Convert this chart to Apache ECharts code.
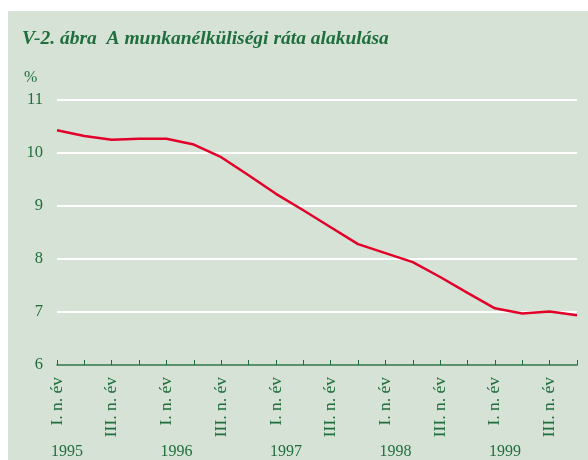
<!DOCTYPE html>
<html>
<head>
<meta charset="utf-8">
<script src="https://cdn.jsdelivr.net/npm/echarts@6/dist/echarts.min.js"></script>
<style>
  html, body { margin: 0; padding: 0; background: #ffffff; }
  #wrap { position: relative; width: 588px; height: 460px; }
  #chart { position: absolute; left: 8px; top: 11px; width: 580px; height: 449px; background: #d7e2d6; }
</style>
</head>
<body>
<div id="wrap"><div id="chart"></div></div>
<script>
// quarterly, 1995 Q1 .. 1999 Q4
const quarters = [
  '1995 I', '1995 II', '1995 III', '1995 IV',
  '1996 I', '1996 II', '1996 III', '1996 IV',
  '1997 I', '1997 II', '1997 III', '1997 IV',
  '1998 I', '1998 II', '1998 III', '1998 IV',
  '1999 I', '1999 II', '1999 III', '1999 IV'
];
const quarterLabels = ['I. n. év', '', 'III. n. év', ''];
const rate = [
  10.43, 10.32, 10.25, 10.27, 10.27, 10.16, 9.92, 9.58, 9.23, 8.92,
  8.60, 8.28, 8.11, 7.94, 7.66, 7.36, 7.07, 6.97, 7.01, 6.94
];
const yMin = 6, yMax = 11, yStep = 1;

const green = '#1f6e3d';
const serif = '"Liberation Serif", "DejaVu Serif", serif';

const chart = echarts.init(document.getElementById('chart'));

const option = {
  animation: false,
  title: {
    text: 'V-2. ábra  A munkanélküliségi ráta alakulása',
    left: 9,
    top: 13,
    textStyle: {
      fontFamily: serif,
      fontStyle: 'italic',
      fontWeight: 'bold',
      fontSize: 19.5,
      color: green
    }
  },
  graphic: [
    {
      type: 'text',
      left: 16,
      top: 59,
      style: { text: '%', font: '16px ' + serif, fill: green }
    }
  ],
  grid: { left: 49, right: 11, top: 89, bottom: 92 },
  xAxis: [
    {
      type: 'category',
      data: quarters,
      boundaryGap: false,
      axisLine: { lineStyle: { color: green, width: 1.5 } },
      axisTick: { show: true, inside: true, length: 5, interval: 0, lineStyle: { color: green, width: 1 } },
      axisLabel: {
        interval: 1,
        rotate: 90,
        margin: 12,
        fontFamily: serif,
        fontSize: 17.5,
        color: green,
        formatter: (v, i) => quarterLabels[i % 4]
      },
      splitLine: { show: false }
    },
    {
      type: 'category',
      data: quarters,
      boundaryGap: false,
      position: 'bottom',
      offset: 71,
      axisLine: { show: false },
      axisTick: { show: false },
      axisLabel: {
        interval: 3,
        fontFamily: serif,
        fontSize: 16,
        color: green,
        padding: [0, 0, 0, 20],
        formatter: v => v.split(' ')[0]
      },
      splitLine: { show: false }
    }
  ],
  yAxis: {
    type: 'value',
    min: yMin,
    max: yMax,
    interval: yStep,
    axisLine: { show: false },
    axisTick: { show: false },
    axisLabel: { margin: 14, fontFamily: serif, fontSize: 16.5, color: green },
    splitLine: { lineStyle: { color: '#ffffff', width: 2 } }
  },
  series: [
    {
      type: 'line',
      data: rate,
      showSymbol: false,
      lineStyle: { color: '#e2002a', width: 2.5 },
      z: 3
    }
  ]
};

chart.setOption(option);
</script>
</body>
</html>
